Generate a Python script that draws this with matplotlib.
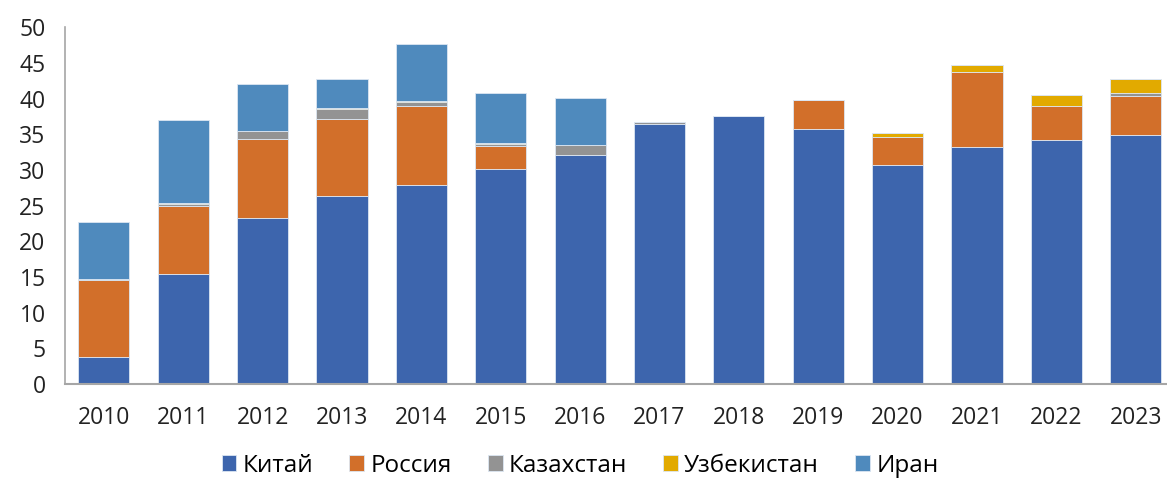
import numpy as np
import matplotlib.pyplot as plt

plt.rcParams['font.family'] = ['Open Sans', 'DejaVu Sans']

years = ['2010', '2011', '2012', '2013', '2014', '2015', '2016',
         '2017', '2018', '2019', '2020', '2021', '2022', '2023']
china = [3.8, 15.4, 23.3, 26.3, 27.9, 30.2, 32.1, 36.4, 37.6, 35.8, 30.7, 33.15, 34.2, 34.95]
russia = [10.8, 9.5, 11.0, 10.9, 11.0, 3.2, 0, 0, 0, 4.0, 3.85, 10.5, 4.7, 5.35]
kazakhstan = [0.1, 0.3, 1.1, 1.4, 0.6, 0.2, 1.4, 0.3, 0, 0, 0.05, 0, 0, 0.5]
uzbekistan = [0.05, 0.15, 0.1, 0.1, 0.15, 0.2, 0, 0, 0, 0, 0.55, 1.05, 1.55, 1.9]
iran = [7.9, 11.7, 6.5, 4.0, 8.0, 6.95, 6.6, 0, 0, 0, 0, 0, 0, 0]

series = [('Китай', china, '#3D65AD'),
          ('Россия', russia, '#D26F2A'),
          ('Казахстан', kazakhstan, '#939393'),
          ('Узбекистан', uzbekistan, '#E2AA00'),
          ('Иран', iran, '#4F8ABD')]

fig = plt.figure(figsize=(11.67, 4.79), dpi=100)
ax = fig.add_axes([0.0557, 0.198, 0.944, 0.7453])

x = np.arange(len(years))
bottom = np.zeros(len(years))
for name, vals, col in series:
    vals = np.array(vals)
    ax.bar(x, vals, 0.645, bottom=bottom, color=col, label=name,
           edgecolor='#dce6f2', linewidth=0.6)
    bottom += vals

ax.set_ylim(0, 50)
ax.set_yticks(range(0, 51, 5))
ax.set_xlim(-0.49, 13.39)
ax.set_xticks(x)
ax.set_xticklabels(years)
ax.tick_params(axis='both', length=0, labelsize=16.5, colors='#222222')
ax.tick_params(axis='x', pad=16)
ax.tick_params(axis='y', pad=14)

for s in ['top', 'right']:
    ax.spines[s].set_visible(False)
ax.spines['left'].set_color('#a6a6a6')
ax.spines['bottom'].set_color('#a6a6a6')
ax.spines['left'].set_linewidth(1.2)
ax.spines['bottom'].set_linewidth(1.5)

fig.legend(loc='lower center', bbox_to_anchor=(0.497, -0.043), ncol=5, frameon=False,
           fontsize=17.5, handlelength=0.6, handleheight=0.6, handletextpad=0.25,
           columnspacing=1.5)

fig.savefig('out.png', dpi=100)
